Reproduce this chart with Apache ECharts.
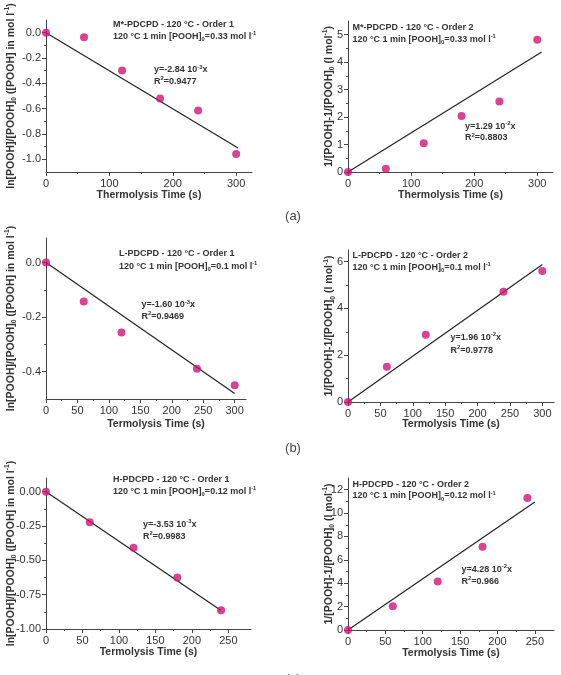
<!DOCTYPE html>
<html>
<head>
<meta charset="utf-8">
<script src="https://cdn.jsdelivr.net/npm/echarts@6/dist/echarts.min.js"></script>
<style>
html, body { margin: 0; padding: 0; background: #fff; }
#chart { width: 561px; height: 675px; }
</style>
</head>
<body>
<div id="chart"></div>
<script>
const FONT = '"Liberation Sans", Arial, sans-serif';
const INK = '#333';
const AXIS = '#444';
const DOT = '#cf1477';

// measured points (time in s)
const timeM = [0, 60, 120, 180, 240, 300];
const mOrder1 = [0.0, -0.037, -0.298, -0.519, -0.614, -0.957];
const mOrder2 = [0.0, 0.12, 1.05, 2.04, 2.57, 4.82];
const timeL = [0, 60, 120, 240, 300];
const lOrder1 = [0.0, -0.143, -0.256, -0.389, -0.450];
const lOrder2 = [0.0, 1.51, 2.88, 4.71, 5.60];
const timeH = [0, 60, 120, 180, 240];
const hOrder1 = [0.0, -0.223, -0.409, -0.625, -0.864];
const hOrder2 = [0.0, 2.03, 4.14, 7.11, 11.29];

// fitted lines, end points
const fitM1X = [0, 303], fitM1Y = [0, -0.91];
const fitM2X = [0, 307], fitM2Y = [0, 4.37];
const fitL1X = [0, 300], fitL1Y = [0, -0.48];
const fitL2X = [0, 300], fitL2Y = [0, 5.88];
const fitH1X = [0, 240], fitH1Y = [0, -0.865];
const fitH2X = [0, 250], fitH2Y = [0, 10.95];

// tick values
const xMaj100 = [0, 100, 200, 300];
const xMin100 = [50, 150, 250];
const xMaj50a = [0, 50, 100, 150, 200, 250, 300];
const xMin50a = [25, 75, 125, 175, 225, 275];
const xMaj50b = [0, 50, 100, 150, 200, 250];
const xMin50b = [25, 75, 125, 175, 225];
const yMajM1 = [-1.0, -0.8, -0.6, -0.4, -0.2, 0.0];
const yMinM1 = [-0.9, -0.7, -0.5, -0.3, -0.1];
const yMajM2 = [0, 1, 2, 3, 4, 5];
const yMinM2 = [0.5, 1.5, 2.5, 3.5, 4.5];
const yMajL1 = [-0.4, -0.2, 0.0];
const yMinL1 = [-0.3, -0.1];
const yMajL2 = [0, 2, 4, 6];
const yMinL2 = [1, 3, 5];
const yMajH1 = [-1.0, -0.75, -0.5, -0.25, 0.0];
const yMinH1 = [-0.875, -0.625, -0.375, -0.125];
const yMajH2 = [0, 2, 4, 6, 8, 10, 12];
const yMinH2 = [1, 3, 5, 7, 9, 11];

// texts
const yName1 = 'ln[POOH]/[POOH]{sub|0} ([POOH] in mol l{sup|-1})';
const yName2 = '1/[POOH]-1/[POOH]{sub|0} (l mol{sup|-1})';
const xNameA = 'Thermolysis Time (s)';
const xNameBC = 'Termolysis Time (s)';

const panels = [
  { grid: { left: 46, top: 20, width: 206, height: 152 }, xr: [0, 325], yr: [-1.1, 0.1],
    xMaj: xMaj100, xMin: xMin100, yMaj: yMajM1, yMin: yMinM1, dec: 1,
    t: timeM, v: mOrder1, fx: fitM1X, fy: fitM1Y, xName: xNameA, yName: yName1, xGap: 17.5, yGap: 28 },
  { grid: { left: 348, top: 21, width: 205, height: 151 }, xr: [0, 325], yr: [0, 5.5],
    xMaj: xMaj100, xMin: xMin100, yMaj: yMajM2, yMin: yMinM2, dec: 0,
    t: timeM, v: mOrder2, fx: fitM2X, fy: fitM2Y, xName: xNameA, yName: yName2, xGap: 17.5, yGap: 12 },
  { grid: { left: 46, top: 238, width: 200, height: 161 }, xr: [0, 318], yr: [-0.5, 0.09],
    xMaj: xMaj50a, xMin: xMin50a, yMaj: yMajL1, yMin: yMinL1, dec: 1,
    t: timeL, v: lOrder1, fx: fitL1X, fy: fitL1Y, xName: xNameBC, yName: yName1, xGap: 19.5, yGap: 28, xPad: [0, 0, 0, 20] },
  { grid: { left: 348, top: 250, width: 206, height: 152 }, xr: [0, 318], yr: [0, 6.5],
    xMaj: xMaj50a, xMin: xMin50a, yMaj: yMajL2, yMin: yMinL2, dec: 0,
    t: timeL, v: lOrder2, fx: fitL2X, fy: fitL2Y, xName: xNameBC, yName: yName2, xGap: 17, yGap: 11.5 },
  { grid: { left: 46, top: 478, width: 205, height: 151 }, xr: [0, 281], yr: [-1.0, 0.1],
    xMaj: xMaj50b, xMin: xMin50b, yMaj: yMajH1, yMin: yMinH1, dec: 2,
    t: timeH, v: hOrder1, fx: fitH1X, fy: fitH1Y, xName: xNameBC, yName: yName1, xGap: 17.5, yGap: 28 },
  { grid: { left: 348, top: 478, width: 206, height: 152 }, xr: [0, 275.6], yr: [0, 13],
    xMaj: xMaj50b, xMin: xMin50b, yMaj: yMajH2, yMin: yMinH2, dec: 0,
    t: timeH, v: hOrder2, fx: fitH2X, fy: fitH2Y, xName: xNameBC, yName: yName2, xGap: 18, yGap: 12 }
];

function scriptRich(size) {
  return {
    sub: { fontSize: size * 0.65, fontWeight: 'bold', fontFamily: FONT, color: INK, verticalAlign: 'bottom' },
    sup: { fontSize: size * 0.65, fontWeight: 'bold', fontFamily: FONT, color: INK, verticalAlign: 'top' }
  };
}

const xAxes = [], yAxes = [], series = [];
panels.forEach((p, i) => {
  xAxes.push({
    type: 'value', gridIndex: i, position: 'bottom', min: p.xr[0], max: p.xr[1],
    name: p.xName, nameLocation: 'middle', nameGap: p.xGap, nameMoveOverlap: false,
    nameTextStyle: { fontFamily: FONT, fontWeight: 'bold', fontSize: 10.5, color: INK, padding: p.xPad || 0 },
    axisLine: { onZero: false, lineStyle: { color: AXIS, width: 1 } },
    axisTick: { customValues: p.xMaj, length: 4, lineStyle: { color: AXIS } },
    axisLabel: { customValues: p.xMaj, margin: 6, fontFamily: FONT, fontSize: 11, color: INK },
    splitLine: { show: false }
  });
  yAxes.push({
    type: 'value', gridIndex: i, position: 'left', min: p.yr[0], max: p.yr[1],
    name: p.yName, nameLocation: 'middle', nameGap: p.yGap, nameRotate: 90, nameMoveOverlap: false,
    nameTextStyle: { fontFamily: FONT, fontWeight: 'bold', fontSize: 10.5, color: INK, lineHeight: 14, rich: scriptRich(10.5) },
    axisLine: { onZero: false, lineStyle: { color: AXIS, width: 1 } },
    axisTick: { customValues: p.yMaj, length: 4, lineStyle: { color: AXIS } },
    axisLabel: { customValues: p.yMaj, margin: 5, fontFamily: FONT, fontSize: 11, color: INK,
      formatter: v => Number(v).toFixed(p.dec) },
    splitLine: { show: false }
  });
});
// minor tick axes
panels.forEach((p, i) => {
  xAxes.push({
    type: 'value', gridIndex: i, position: 'bottom', min: p.xr[0], max: p.xr[1],
    axisLine: { show: false, onZero: false },
    axisTick: { customValues: p.xMin, length: 2, lineStyle: { color: AXIS } },
    axisLabel: { show: false }, splitLine: { show: false }
  });
  yAxes.push({
    type: 'value', gridIndex: i, position: 'left', min: p.yr[0], max: p.yr[1],
    axisLine: { show: false, onZero: false },
    axisTick: { customValues: p.yMin, length: 2, lineStyle: { color: AXIS } },
    axisLabel: { show: false }, splitLine: { show: false }
  });
});

panels.forEach((p, i) => {
  series.push({
    type: 'line', xAxisIndex: i, yAxisIndex: i, symbol: 'none', z: 2,
    data: p.fx.map((x, k) => [x, p.fy[k]]),
    lineStyle: { color: '#222', width: 1.2 }
  });
  series.push({
    type: 'scatter', xAxisIndex: i, yAxisIndex: i, clip: false, z: 3,
    symbolSize: 8, itemStyle: { color: DOT },
    data: p.t.map((t, k) => [t, p.v[k]])
  });
});

// annotation text: [x, y, text]
const notes = [
  [113, 25, 'M*-PDCPD - 120 °C - Order 1'],
  [113, 36.5, '120 °C 1 min [POOH]{sub|0}=0.33 mol l{sup|-1}'],
  [154, 70, 'y=-2.84 10{sup|-3}x'],
  [154, 81.5, 'R{sup|2}=0.9477'],
  [352.5, 27.5, 'M*-PDCPD - 120 °C - Order 2'],
  [352.5, 39.5, '120 °C 1 min [POOH]{sub|0}=0.33 mol l{sup|-1}'],
  [465, 126.5, 'y=1.29 10{sup|-2}x'],
  [465, 138, 'R{sup|2}=0.8803'],
  [119, 254, 'L-PDCPD - 120 °C - Order 1'],
  [119, 266.5, '120 °C 1 min [POOH]{sub|0}=0.1 mol l{sup|-1}'],
  [141.5, 305, 'y=-1.60 10{sup|-3}x'],
  [141.5, 316.5, 'R{sup|2}=0.9469'],
  [352.5, 256, 'L-PDCPD - 120 °C - Order 2'],
  [352.5, 267.5, '120 °C 1 min [POOH]{sub|0}=0.1 mol l{sup|-1}'],
  [450.5, 337.5, 'y=1.96 10{sup|-2}x'],
  [450.5, 350.5, 'R{sup|2}=0.9778'],
  [113, 479.5, 'H-PDCPD - 120 °C - Order 1'],
  [113, 491.5, '120 °C 1 min [POOH]{sub|0}=0.12 mol l{sup|-1}'],
  [143, 524.5, 'y=-3.53 10{sup|-3}x'],
  [143, 536.5, 'R{sup|2}=0.9983'],
  [352.5, 484.5, 'H-PDCPD - 120 °C - Order 2'],
  [352.5, 496, '120 °C 1 min [POOH]{sub|0}=0.12 mol l{sup|-1}'],
  [461.5, 569.5, 'y=4.28 10{sup|-2}x'],
  [461.5, 581.5, 'R{sup|2}=0.966']
];
const panelTags = [[293, 216, '(a)'], [293, 448, '(b)'], [293, 679, '(c)']];

const graphic = notes.map(n => ({
  type: 'text', x: n[0], y: n[1], z: 10,
  style: {
    text: n[2], fill: INK, fontFamily: FONT, fontWeight: 'bold', fontSize: 9,
    lineHeight: 12, verticalAlign: 'middle', align: 'left', rich: scriptRich(9)
  }
})).concat(panelTags.map(t => ({
  type: 'text', x: t[0], y: t[1], z: 10,
  style: { text: t[2], fill: '#444', fontFamily: FONT, fontSize: 13, align: 'center', verticalAlign: 'middle' }
})));

const chart = echarts.init(document.getElementById('chart'));
chart.setOption({
  animation: false,
  backgroundColor: '#fff',
  grid: panels.map(p => p.grid),
  xAxis: xAxes,
  yAxis: yAxes,
  series: series,
  graphic: graphic
});
</script>
</body>
</html>
